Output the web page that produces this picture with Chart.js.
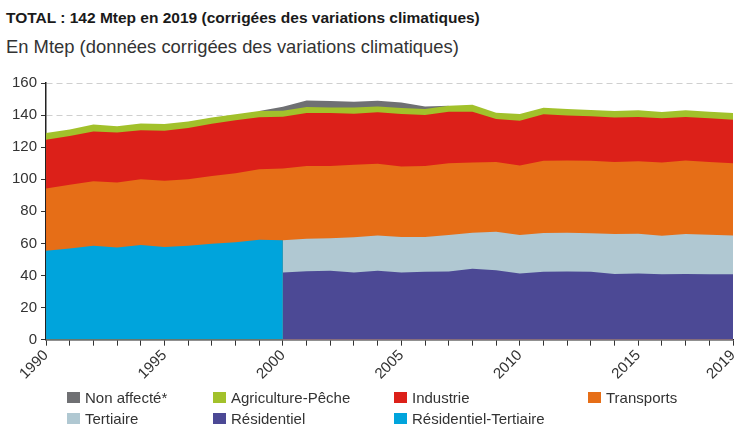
<!DOCTYPE html>
<html><head><meta charset="utf-8">
<script src="https://cdn.jsdelivr.net/npm/chart.js@4/dist/chart.umd.min.js"></script>
<style>
html,body{margin:0;padding:0;background:#fff;}
body{width:738px;height:427px;position:relative;overflow:hidden;font-family:"Liberation Sans",Arial,sans-serif;color:#222;}
#title{position:absolute;left:6px;top:9px;font-weight:bold;font-size:15.5px;color:#1a1a1a;white-space:nowrap;}
#subtitle{position:absolute;left:6px;top:36px;font-size:18.4px;color:#333;white-space:nowrap;}
#c{position:absolute;left:0;top:0;}
#legend{position:absolute;left:0;top:0;width:738px;height:427px;pointer-events:none;}
.li{position:absolute;font-size:15px;color:#333;white-space:nowrap;line-height:17px;padding-left:18px;}
.li span{position:absolute;left:0;top:3px;width:13px;height:11px;}
</style></head><body>
<div id="title">TOTAL : 142 Mtep en 2019 (corrigées des variations climatiques)</div>
<div id="subtitle">En Mtep (données corrigées des variations climatiques)</div>
<canvas id="c" width="738" height="427"></canvas>
<div id="legend"></div>
<script>
const years = [1990,1991,1992,1993,1994,1995,1996,1997,1998,1999,2000,2001,2002,2003,2004,2005,2006,2007,2008,2009,2010,2011,2012,2013,2014,2015,2016,2017,2018,2019];
const xLabelYears = [1990,1995,2000,2005,2010,2015,2019];
const residentielTertiaire = [55.4,56.9,58.5,57.5,59.0,57.7,58.5,59.8,60.8,62.3,61.9,null,null,null,null,null,null,null,null,null,null,null,null,null,null,null,null,null,null,null];
const residentiel = [null,null,null,null,null,null,null,null,null,null,41.9,42.7,42.9,41.9,42.9,41.9,42.3,42.5,44.2,43.3,41.3,42.3,42.5,42.3,41.0,41.3,40.8,41.0,40.8,40.8];
const tertiaire = [null,null,null,null,null,null,null,null,null,null,20.0,20.2,20.4,21.9,22.1,22.1,21.7,22.7,22.5,24.0,24.0,24.2,24.2,24.0,24.8,24.7,24.0,24.8,24.6,24.2];
const transports = [38.8,39.6,40.3,40.4,41.0,41.3,41.5,42.3,43.0,44.0,44.8,45.4,45.0,45.3,44.6,43.9,44.3,44.8,43.7,43.5,43.3,45.1,45.0,45.3,45.0,45.3,45.6,45.9,45.4,45.0];
const industrie = [30.4,30.5,31.0,31.3,30.6,31.2,31.9,32.5,33.0,32.3,32.3,33.0,33.0,31.8,32.1,32.7,31.7,32.1,31.7,26.7,27.8,28.9,28.1,27.7,27.7,27.5,27.7,27.1,27.3,27.1];
const agriculture = [4.2,4.0,4.4,3.9,4.2,4.2,4.1,3.9,3.7,4.0,3.7,3.8,3.4,3.8,3.7,3.8,3.8,3.7,4.4,4.0,4.2,4.1,4.0,3.9,4.0,4.2,3.8,4.2,4.0,4.2];
const nonAffecte = [null,null,null,null,null,null,null,null,null,0,2.5,4.0,4.1,3.6,3.6,3.5,1.5,0,null,null,null,null,null,null,null,null,null,null,null,null];

const series = [
  {label:'Non affecté*', color:'#6f7073'},
  {label:'Agriculture-Pêche', color:'#a2c12b'},
  {label:'Industrie', color:'#dc2019'},
  {label:'Transports', color:'#e66e17'},
  {label:'Tertiaire', color:'#b0c8d2'},
  {label:'Résidentiel', color:'#4c4995'},
  {label:'Résidentiel-Tertiaire', color:'#00a4dc'}
];

// cumulative layers (stack tops)
const base = years.map((y,i)=> residentielTertiaire[i] !== null ? residentielTertiaire[i] : residentiel[i] + tertiaire[i]);
const cTransports = base.map((b,i)=> b + transports[i]);
const cIndustrie = cTransports.map((b,i)=> b + industrie[i]);
const cAgri = cIndustrie.map((b,i)=> b + agriculture[i]);
const cNon = cAgri.map((b,i)=> nonAffecte[i] === null ? null : b + nonAffecte[i]);
const cTert = years.map((y,i)=> residentiel[i] === null ? null : residentiel[i] + tertiaire[i]);

const layers = {
  'Résidentiel-Tertiaire': residentielTertiaire,
  'Résidentiel': residentiel,
  'Tertiaire': cTert,
  'Transports': cTransports,
  'Industrie': cIndustrie,
  'Agriculture-Pêche': cAgri,
  'Non affecté*': cNon
};
const drawOrder = ['Résidentiel-Tertiaire','Résidentiel','Tertiaire','Transports','Industrie','Agriculture-Pêche','Non affecté*'];
const datasets = drawOrder.map(name=>{
  const s = series.find(q=>q.label===name);
  return {
    label: name,
    data: years.map((yr,i)=>({x:yr, y: layers[name][i]})),
    backgroundColor: s.color,
    borderColor: s.color,
    borderWidth: 0,
    pointRadius: 0,
    fill: 'origin',
    tension: 0,
    spanGaps: false
  };
});

new Chart(document.getElementById('c'), {
  type: 'line',
  data: { datasets },
  options: {
    responsive: false,
    animation: false,
    devicePixelRatio: 1,
    layout: { padding: { left: 8, right: 5, top: 83, bottom: 43 } },
    plugins: { legend: { display: false }, tooltip: { enabled: false } },
    scales: {
      x: {
        type: 'linear', min: 1990, max: 2019,
        afterBuildTicks: axis => { axis.ticks = years.map(v=>({value:v})); },
        afterFit: axis => { axis.paddingRight = 0; },
        ticks: {
          autoSkip: false, maxRotation: 45, minRotation: 45, padding: 1,
          color: '#333', font: { family: 'Liberation Sans', size: 15 },
          callback: v => xLabelYears.includes(v) ? String(v) : ''
        },
        grid: { drawOnChartArea: false, drawTicks: true, tickLength: 6, tickColor: '#333', tickWidth: 1 },
        border: { color: '#222', width: 1.5 }
      },
      y: {
        min: 0, max: 160,
        ticks: { stepSize: 20, padding: 4, color: '#333', font: { family: 'Liberation Sans', size: 15 } },
        grid: { color: '#cfcfcf', lineWidth: 1, tickLength: 5, tickColor: '#333', tickBorderDash: [] },
        border: { color: '#222', width: 1.5, dash: [6,4] }
      }
    }
  }
});

// legend (grid-aligned)
const legendCols = [67, 213, 394, 588];
const legendRows = [389, 410];
const lg = document.getElementById('legend');
series.forEach((s,i)=>{
  const d = document.createElement('div');
  d.className = 'li';
  d.style.left = legendCols[i % 4] + 'px';
  d.style.top = legendRows[Math.floor(i / 4)] + 'px';
  const sw = document.createElement('span');
  sw.style.background = s.color;
  d.appendChild(sw);
  d.appendChild(document.createTextNode(s.label));
  lg.appendChild(d);
});
</script>
</body></html>
